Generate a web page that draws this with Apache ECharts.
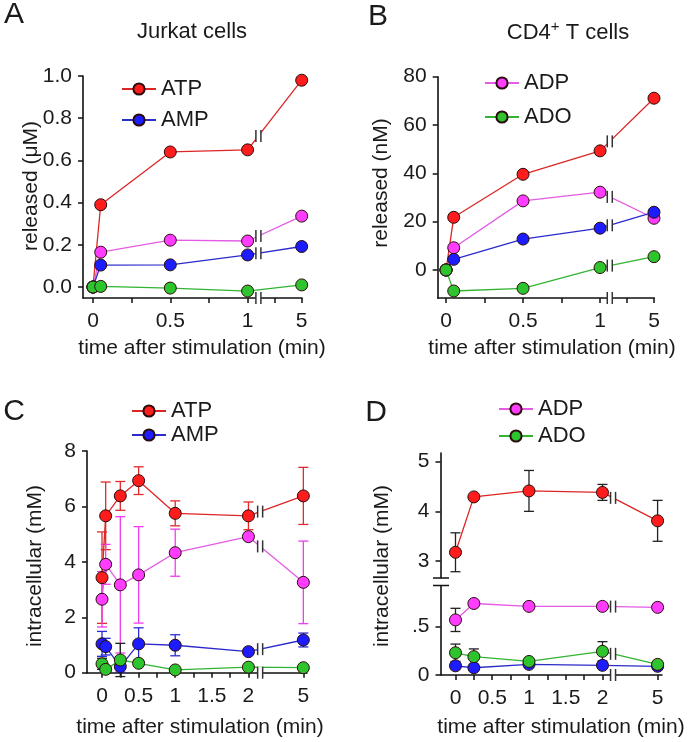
<!DOCTYPE html>
<html><head><meta charset="utf-8">
<script src="https://cdn.jsdelivr.net/npm/echarts@6/dist/echarts.min.js"></script>
<style>html,body{margin:0;padding:0;background:#fff}#c{width:693px;height:742px}</style>
</head><body><div id="c"></div><script>
const FONT = '"Liberation Sans", Arial, sans-serif';
const TXT = '#1a1a1a';

// ---------------- DATA ----------------
// Panels A & B: released nucleotides (time in min)
const timesAB = [0, 0.05, 0.5, 1, 5];
const A_ATP = [0, 0.39, 0.64, 0.65, 0.98];
const A_ADP = [0, 0.165, 0.222, 0.218, 0.336];
const A_AMP = [0, 0.104, 0.105, 0.152, 0.192];
const A_ADO = [0, 0.003, -0.005, -0.019, 0.010];

const B_ATP = [0, 21.8, 39.6, 49.3, 71.1];
const B_ADP = [0, 9.2, 28.6, 32.2, 21.4];
const B_AMP = [0, 4.4, 12.8, 17.3, 23.9];
const B_ADO = [0, -8.7, -7.6, 1.0, 5.5];

// Panel C: intracellular, Jurkat
const timesC = [0, 0.05, 0.25, 0.5, 1, 2, 5];
const C_ATP = [3.43, 5.66, 6.38, 6.93, 5.75, 5.66, 6.38];
const C_ATP_err = [1.65, 1.22, 0.52, 0.50, 0.45, 0.50, 1.03];
const C_ADP = [2.65, 3.91, 3.17, 3.53, 4.33, 4.91, 3.26];
const C_ADP_err = [1.00, 0.72, 2.46, 1.74, 0.85, 0.12, 1.49];
const C_AMP = [1.04, 0.94, 0.22, 1.04, 0.99, 0.76, 1.18];
const C_AMP_err = [0.45, 0.30, 0.20, 0.58, 0.38, 0.05, 0.25];
const C_ADO = [0.32, 0.12, 0.46, 0.34, 0.10, 0.20, 0.18];
const C_ADO_err = [0.20, 0.05, 0.60, 0.10, 0.05, 0.05, 0.05];

// Panel D: intracellular, CD4+ T cells
const timesD = [0, 0.25, 1, 2, 5];
const D_ATP = [3.18, 4.29, 4.41, 4.38, 3.81];
const D_ATP_err = [0.39, 0.03, 0.41, 0.16, 0.41];
const D_ADP = [0.57, 0.74, 0.71, 0.71, 0.70];
const D_ADP_err = [0.12, 0.02, 0.03, 0.02, 0.02];
const D_AMP = [0.095, 0.075, 0.11, 0.10, 0.09];
const D_AMP_err = [0.01, 0.01, 0.01, 0.01, 0.01];
const D_ADO = [0.23, 0.19, 0.14, 0.245, 0.11];
const D_ADO_err = [0.09, 0.08, 0.02, 0.10, 0.02];

// tick labels
const xTickTimesAB = [0, 0.25, 0.5, 0.75, 1, 4, 5];
const xLabelTimesAB = [0, 0.5, 1, 5];
const xLabelsAB = ['0', '0.5', '1', '5'];
const xTickTimesCD = [0, 0.25, 0.5, 0.75, 1, 1.25, 1.5, 1.75, 2, 5];
const xLabelTimesCD = [0, 0.5, 1, 1.5, 2, 5];
const xLabelsCD = ['0', '0.5', '1', '1.5', '2', '5'];
const yTicksA = [0, 0.2, 0.4, 0.6, 0.8, 1.0];
const yLabelsA = ['0.0', '0.2', '0.4', '0.6', '0.8', '1.0'];
const yTicksB = [0, 20, 40, 60, 80];
const yTicksC = [0, 2, 4, 6, 8];
const yTicksDup = [3, 4, 5];
const yTicksDlow = [0, 0.5];
const yLabelsDlow = ['0', '.5'];

// ---------------- LAYOUT / STYLE ----------------
const COL = {
  ATP: { fill: '#ff1c1c', line: '#dc2626' },
  ADP: { fill: '#ff3cff', line: '#e45be4' },
  AMP: { fill: '#1c1cff', line: '#2b2bcc' },
  ADO: { fill: '#2ec42e', line: '#32b432' }
};
// broken time axis: times beyond the cut are placed after the break
function makePos(cut, endPos, k) { return t => (t <= cut ? t : endPos - (5 - t) * k); }
const posAB = makePos(1, 1.35, 0.175);
const posCD = makePos(2, 2.75, 0.2);

const grids = [
  { left: 83, top: 76, width: 219, height: 222 },      // A
  { left: 437.7, top: 76.7, width: 216.6, height: 221.3 }, // B
  { left: 87, top: 451, width: 220, height: 221.7 },    // C
  { left: 440.5, top: 453, width: 221.5, height: 124.7 }, // D upper
  { left: 440.5, top: 585.7, width: 221.5, height: 89.3 } // D lower
];

const axisLineStyle = { color: '#111', width: 1.6 };
const labelStyle = { fontFamily: FONT, fontSize: 21, color: TXT };

function xAxis(gi, min, max, tickTimes, labelTimes, labels, pos, show) {
  const lp = labelTimes.map(pos);
  return {
    type: 'value', gridIndex: gi, min, max, show: show,
    axisLine: { show: true, onZero: false, lineStyle: axisLineStyle },
    axisTick: { show: true, length: 5, lineStyle: { color: '#111', width: 1.5 }, customValues: tickTimes.map(pos) },
    axisLabel: { show: true, margin: 13, ...labelStyle, customValues: lp,
      formatter: v => { const i = lp.findIndex(p => Math.abs(p - v) < 1e-6); return i >= 0 ? labels[i] : ''; } },
    splitLine: { show: false }
  };
}
function yAxis(gi, min, max, ticks, labels) {
  return {
    type: 'value', gridIndex: gi, min, max,
    axisLine: { show: true, onZero: false, lineStyle: axisLineStyle },
    axisTick: { show: true, length: 5, lineStyle: { color: '#111', width: 1.5 }, customValues: ticks },
    axisLabel: { show: true, margin: 11, ...labelStyle, customValues: ticks,
      formatter: v => { const i = ticks.findIndex(p => Math.abs(p - v) < 1e-9); return labels ? labels[i] : String(v); } },
    splitLine: { show: false }
  };
}

function lineSeries(name, times, vals, idx, pos) {
  const c = COL[name];
  return {
    type: 'line', name, xAxisIndex: idx, yAxisIndex: idx, clip: false,
    data: times.map((t, i) => [pos(t), vals[i]]),
    symbol: 'circle', symbolSize: 12, showSymbol: true,
    itemStyle: { color: c.fill, borderColor: '#2a0c0c', borderWidth: 1 },
    lineStyle: { color: c.line, width: 1.3 },
    emphasis: { disabled: true }, z: 3, animation: false
  };
}
function errSeries(times, vals, errs, idx, pos, color) {
  return {
    type: 'custom', xAxisIndex: idx, yAxisIndex: idx, clip: false, silent: true, z: 2, animation: false,
    data: times.map((t, i) => [pos(t), vals[i], errs[i]]),
    renderItem(params, api) {
      const x = api.value(0), y = api.value(1), e = api.value(2);
      const a = api.coord([x, y + e]), b = api.coord([x, y - e]);
      const w = 5, st = { stroke: color, lineWidth: 1.3 };
      return { type: 'group', children: [
        { type: 'line', shape: { x1: a[0], y1: a[1], x2: b[0], y2: b[1] }, style: st },
        { type: 'line', shape: { x1: a[0] - w, y1: a[1], x2: a[0] + w, y2: a[1] }, style: st },
        { type: 'line', shape: { x1: b[0] - w, y1: b[1], x2: b[0] + w, y2: b[1] }, style: st }
      ] };
    }
  };
}
// "||" break markers on lines (interpolated on the segment that crosses the break) and on the axis
function breakSeries(idx, bp, valsList, times, pos, yMin) {
  const items = [];
  valsList.forEach(v => {
    const n = times.length;
    const p1 = pos(times[n - 2]), p2 = pos(times[n - 1]);
    const y = v[n - 2] + (v[n - 1] - v[n - 2]) * (bp - p1) / (p2 - p1);
    items.push([bp, y]);
  });
  if (yMin !== null) items.push([bp, yMin]);
  return {
    type: 'custom', xAxisIndex: idx, yAxisIndex: idx, clip: false, silent: true, z: 4, animation: false,
    data: items,
    renderItem(params, api) {
      const p = api.coord([api.value(0), api.value(1)]);
      const h = 6, g = 2.5, st = { stroke: '#333', lineWidth: 1.5 };
      return { type: 'group', children: [
        { type: 'rect', shape: { x: p[0] - g, y: p[1] - h, width: 2 * g, height: 2 * h }, style: { fill: '#fff' } },
        { type: 'line', shape: { x1: p[0] - g, y1: p[1] - h, x2: p[0] - g, y2: p[1] + h }, style: st },
        { type: 'line', shape: { x1: p[0] + g, y1: p[1] - h, x2: p[0] + g, y2: p[1] + h }, style: st }
      ] };
    }
  };
}

const series = [
  // A
  lineSeries('ATP', timesAB, A_ATP, 0, posAB),
  lineSeries('ADP', timesAB, A_ADP, 0, posAB),
  lineSeries('AMP', timesAB, A_AMP, 0, posAB),
  lineSeries('ADO', timesAB, A_ADO, 0, posAB),
  breakSeries(0, 1.07, [A_ATP, A_ADP, A_AMP], timesAB, posAB, -0.052),
  // B
  lineSeries('ATP', timesAB, B_ATP, 1, posAB),
  lineSeries('ADP', timesAB, B_ADP, 1, posAB),
  lineSeries('AMP', timesAB, B_AMP, 1, posAB),
  lineSeries('ADO', timesAB, B_ADO, 1, posAB),
  breakSeries(1, 1.063, [B_ATP, B_ADP, B_AMP, B_ADO], timesAB, posAB, -11.6),
  // C
  errSeries(timesC, C_ATP, C_ATP_err, 2, posCD, '#e02a2a'),
  errSeries(timesC, C_ADP, C_ADP_err, 2, posCD, '#f03cf0'),
  errSeries(timesC, C_AMP, C_AMP_err, 2, posCD, '#2b2bd8'),
  errSeries(timesC, C_ADO, C_ADO_err, 2, posCD, '#222'),
  lineSeries('ATP', timesC, C_ATP, 2, posCD),
  lineSeries('ADP', timesC, C_ADP, 2, posCD),
  lineSeries('AMP', timesC, C_AMP, 2, posCD),
  lineSeries('ADO', timesC, C_ADO, 2, posCD),
  breakSeries(2, 2.16, [C_ATP, C_ADP, C_AMP], timesC, posCD, 0),
  // D upper
  errSeries(timesD, D_ATP, D_ATP_err, 3, posCD, '#222'),
  lineSeries('ATP', timesD, D_ATP, 3, posCD),
  breakSeries(3, 2.144, [D_ATP], timesD, posCD, null),
  // D lower
  errSeries(timesD, D_ADP, D_ADP_err, 4, posCD, '#222'),
  errSeries(timesD, D_ADO, D_ADO_err, 4, posCD, '#222'),
  errSeries(timesD, D_AMP, D_AMP_err, 4, posCD, '#222'),
  lineSeries('ADP', timesD, D_ADP, 4, posCD),
  lineSeries('AMP', timesD, D_AMP, 4, posCD),
  lineSeries('ADO', timesD, D_ADO, 4, posCD),
  breakSeries(4, 2.144, [D_ADP, D_ADO], timesD, posCD, 0)
];

const legendBase = { orient: 'vertical', itemWidth: 34, itemHeight: 14, selectedMode: false,
  textStyle: { fontFamily: FONT, fontSize: 22, color: TXT } };
const legends = [
  { ...legendBase, data: ['ATP', 'AMP'], left: 116, top: 73, itemGap: 9 },
  { ...legendBase, data: ['ADP', 'ADO'], left: 479, top: 67, itemGap: 12 },
  { ...legendBase, data: ['ATP', 'AMP'], left: 126, top: 395, itemGap: 2 },
  { ...legendBase, data: ['ADP', 'ADO'], left: 493, top: 393, itemGap: 5 }
];

function txt(x, y, text, size, opts) {
  return Object.assign({ type: 'text', x, y, silent: true,
    style: { text, fontFamily: FONT, fontSize: size, fill: TXT, align: 'center', verticalAlign: 'middle' } }, opts || {});
}
const graphics = [
  txt(14, 15, 'A', 30), txt(378, 17, 'B', 30), txt(14, 412, 'C', 30), txt(376, 413, 'D', 30),
  txt(192, 32, 'Jurkat cells', 22),
  { type: 'text', x: 568, y: 33, silent: true, style: { text: 'CD4{sup|+} T cells', fontFamily: FONT, fontSize: 22, fill: TXT,
      align: 'center', verticalAlign: 'middle', rich: { sup: { fontFamily: FONT, fontSize: 15, fill: TXT, padding: [0, 0, 12, 0] } } } },
  txt(31, 186, 'released (μM)', 21, { rotation: Math.PI / 2 }),
  txt(381, 183, 'released (nM)', 21, { rotation: Math.PI / 2 }),
  txt(35, 566, 'intracellular (mM)', 21, { rotation: Math.PI / 2 }),
  txt(382, 566, 'intracellular (mM)', 21, { rotation: Math.PI / 2 }),
  txt(202, 348, 'time after stimulation (min)', 21),
  txt(552, 348, 'time after stimulation (min)', 21),
  txt(200, 727, 'time after stimulation (min)', 21),
  txt(561, 727, 'time after stimulation (min)', 21),
  // y-axis break marks for panel D
  { type: 'line', silent: true, shape: { x1: 433, y1: 578, x2: 449, y2: 578 }, style: { stroke: '#111', lineWidth: 1.5 } },
  { type: 'line', silent: true, shape: { x1: 433, y1: 585.5, x2: 449, y2: 585.5 }, style: { stroke: '#111', lineWidth: 1.5 } }
];

const chart = echarts.init(document.getElementById('c'), null, { renderer: 'canvas' });
chart.setOption({
  animation: false,
  backgroundColor: '#fff',
  grid: grids,
  xAxis: [
    xAxis(0, -0.0645, 1.352, xTickTimesAB, xLabelTimesAB, xLabelsAB, posAB, true),
    xAxis(1, -0.054, 1.352, xTickTimesAB, xLabelTimesAB, xLabelsAB, posAB, true),
    xAxis(2, -0.205, 2.80, xTickTimesCD, xLabelTimesCD, xLabelsCD, posCD, true),
    xAxis(3, -0.204, 2.81, xTickTimesCD, xLabelTimesCD, xLabelsCD, posCD, false),
    xAxis(4, -0.204, 2.81, xTickTimesCD, xLabelTimesCD, xLabelsCD, posCD, true)
  ],
  yAxis: [
    yAxis(0, -0.052, 1.0, yTicksA, yLabelsA),
    yAxis(1, -11.6, 80, yTicksB, null),
    yAxis(2, 0, 8, yTicksC, null),
    yAxis(3, 2.67, 5.17, yTicksDup, null),
    yAxis(4, 0, 0.924, yTicksDlow, yLabelsDlow)
  ],
  legend: legends,
  series,
  graphic: graphics
});
</script></body></html>
